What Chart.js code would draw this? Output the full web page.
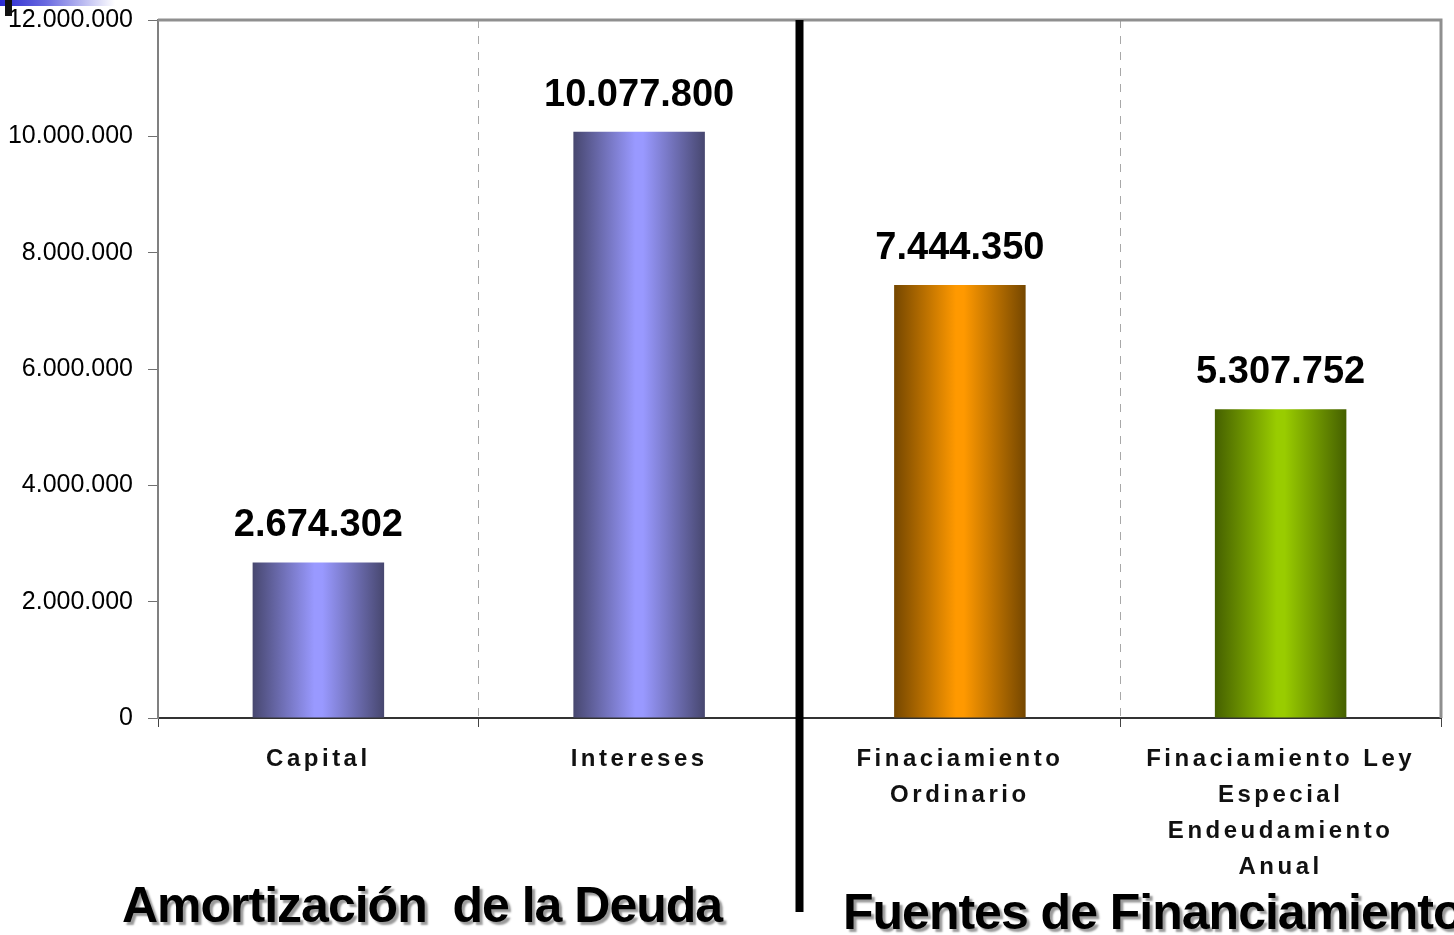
<!DOCTYPE html>
<html>
<head>
<meta charset="utf-8">
<script src="https://cdn.jsdelivr.net/npm/chart.js@4"></script>
<style>
  html, body { margin: 0; padding: 0; background: #fff; }
  #wrap { position: relative; width: 1454px; height: 935px; overflow: hidden; }
  .deco-bar { position: absolute; left: 0; top: 0; width: 115px; height: 6px;
    background: linear-gradient(to right, #2a2ad0, #6a6ae0 40%, #fff); }
  .deco-sq { position: absolute; left: 5px; top: 0; width: 7px; height: 16px; background: #111; }
  .big { position: absolute; font-family: "Liberation Sans", Arial, sans-serif; font-weight: bold;
    font-size: 50px; line-height: 50px; letter-spacing: -1px; color: #000; white-space: nowrap;
    text-shadow: 3px 3px 2px #9a9a9a; }
</style>
</head>
<body>
<div id="wrap">
  <canvas id="myChart" width="1454" height="935"></canvas>
  <div class="deco-bar"></div>
  <div class="deco-sq"></div>
  <div class="big" style="left:122px; top:880px;">Amortización&nbsp; de la Deuda</div>
  <div class="big" style="left:843px; top:887px;">Fuentes de Financiamiento</div>
</div>
<script>
const categories = [
  'Capital',
  'Intereses',
  ['Finaciamiento', 'Ordinario'],
  ['Finaciamiento Ley', 'Especial', 'Endeudamiento', 'Anual']
];
const values = [2674302, 10077800, 7444350, 5307752];
const yTicks = [0, 2000000, 4000000, 6000000, 8000000, 10000000, 12000000];

const lightCols = ['#9999ff', '#9999ff', '#ff9900', '#99cc00'];
const darkCols = ['#47476f', '#47476f', '#754700', '#456000'];
const barPct = 0.41;

function fmt(v) {
  return String(v).replace(/\B(?=(\d{3})+(?!\d))/g, '.');
}

function barFill(c) {
  const chart = c.chart;
  const xs = chart.scales.x;
  if (!chart.chartArea || !xs) return lightCols[c.dataIndex];
  const mid = xs.getPixelForValue(c.dataIndex);
  const half = (chart.chartArea.width / categories.length) * barPct / 2;
  const g = chart.ctx.createLinearGradient(mid - half, 0, mid + half, 0);
  g.addColorStop(0, darkCols[c.dataIndex]);
  g.addColorStop(0.47, lightCols[c.dataIndex]);
  g.addColorStop(0.53, lightCols[c.dataIndex]);
  g.addColorStop(1, darkCols[c.dataIndex]);
  return g;
}

const extras = {
  id: 'extras',
  beforeDraw(chart) {
    chart.ctx.letterSpacing = '3.5px';
  },
  beforeDatasetsDraw(chart) {
    chart.ctx.letterSpacing = '0px';
  },
  afterDatasetsDraw(chart) {
    const ctx = chart.ctx;
    const meta = chart.getDatasetMeta(0);
    ctx.save();
    ctx.font = 'bold 38px "Liberation Sans", Arial, sans-serif';
    ctx.fillStyle = '#000';
    ctx.textAlign = 'center';
    ctx.textBaseline = 'alphabetic';
    meta.data.forEach((bar, i) => {
      ctx.fillText(fmt(values[i]), bar.x, bar.y - 26);
    });
    ctx.restore();
  },
  afterDraw(chart) {
    const ctx = chart.ctx;
    const a = chart.chartArea;
    const xs = chart.scales.x;
    ctx.save();
    // plot frame top / right
    ctx.strokeStyle = '#8f8f8f';
    ctx.lineWidth = 3;
    ctx.beginPath();
    ctx.moveTo(a.left, a.top);
    ctx.lineTo(a.right, a.top);
    ctx.lineTo(a.right, a.bottom);
    ctx.stroke();
    // thick separator between the two groups
    const sx = (xs.getPixelForValue(1) + xs.getPixelForValue(2)) / 2;
    ctx.strokeStyle = '#000';
    ctx.lineWidth = 8;
    ctx.beginPath();
    ctx.moveTo(sx, a.top);
    ctx.lineTo(sx, 912);
    ctx.stroke();
    ctx.restore();
  }
};

new Chart(document.getElementById('myChart'), {
  type: 'bar',
  data: {
    labels: categories,
    datasets: [{
      data: values,
      backgroundColor: barFill,
      borderWidth: 0,
      barPercentage: barPct,
      categoryPercentage: 1
    }]
  },
  options: {
    responsive: false,
    animation: false,
    layout: { padding: { top: 20, right: 13, left: 0, bottom: 0 } },
    plugins: {
      legend: { display: false },
      tooltip: { enabled: false }
    },
    scales: {
      x: {
        afterFit(s) { s.height = 217; },
        grid: {
          color: '#a8a8a8',
          lineWidth: 1,
          tickColor: '#444',
          tickLength: 9,
          tickBorderDash: []
        },
        border: { color: '#333', width: 2, dash: [8, 8] },
        ticks: {
          color: '#111',
          autoSkip: false,
          maxRotation: 0,
          padding: 14,
          font: { family: '"Liberation Sans", Arial, sans-serif', size: 24, weight: 'bold', lineHeight: 1.5 }
        }
      },
      y: {
        min: 0,
        max: 12000000,
        afterFit(s) { s.width = 158; s.paddingTop = 0; s.paddingBottom = 0; },
        afterBuildTicks(s) { s.ticks = yTicks.map(v => ({ value: v })); },
        grid: { drawOnChartArea: false, tickLength: 10, color: '#707070', lineWidth: 1 },
        border: { color: '#808080', width: 2 },
        ticks: {
          z: 1,
          padding: 15,
          color: '#000',
          font: { family: '"Liberation Sans", Arial, sans-serif', size: 25 },
          callback: v => fmt(v)
        }
      }
    }
  },
  plugins: [extras]
});
</script>
</body>
</html>
